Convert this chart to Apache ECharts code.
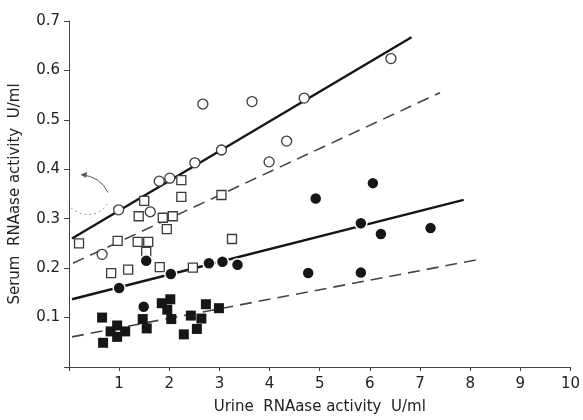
<!DOCTYPE html>
<html>
<head>
<meta charset="utf-8">
<script src="https://cdn.jsdelivr.net/npm/echarts@6/dist/echarts.min.js"></script>
<style>html,body{margin:0;padding:0;background:#fff;}#c{width:583px;height:420px;}</style>
</head>
<body>
<div id="c"></div>
<script>
// ---- data (urine U/ml, serum U/ml) ----
const openCircles = [[0.66,0.228],[0.99,0.318],[1.62,0.314],[1.80,0.376],[2.01,0.382],[2.51,0.413],[2.67,0.532],[3.04,0.439],[3.65,0.537],[3.99,0.415],[4.34,0.457],[4.69,0.544],[6.42,0.624]];
const openSquares = [[0.20,0.250],[0.84,0.190],[0.97,0.255],[1.18,0.197],[1.37,0.253],[1.39,0.305],[1.50,0.336],[1.54,0.233],[1.58,0.253],[1.81,0.202],[1.87,0.302],[1.95,0.279],[2.07,0.305],[2.24,0.378],[2.24,0.344],[2.47,0.201],[3.04,0.348],[3.25,0.259]];
const filledCircles = [[1.00,0.160],[1.49,0.122],[1.54,0.215],[2.03,0.188],[2.79,0.210],[3.06,0.213],[3.36,0.207],[4.77,0.190],[4.92,0.341],[5.82,0.291],[5.82,0.191],[6.06,0.372],[6.22,0.269],[7.21,0.281]];
const filledSquares = [[0.66,0.100],[0.68,0.049],[0.83,0.072],[0.96,0.084],[0.96,0.061],[1.12,0.072],[1.47,0.097],[1.55,0.078],[1.85,0.129],[2.02,0.137],[1.96,0.116],[2.04,0.097],[2.29,0.066],[2.43,0.104],[2.55,0.077],[2.64,0.098],[2.73,0.127],[2.99,0.119]];
// regression lines (endpoints)
const fitOpenCircles = [[0.06,0.260],[6.83,0.667]];
const fitOpenSquares = [[0.08,0.210],[7.40,0.555]];
const fitFilledCircles = [[0.06,0.137],[7.87,0.338]];
const fitFilledSquares = [[0.06,0.061],[8.14,0.217]];
const xTicks = [1,2,3,4,5,6,7,8,9,10];
const yTicks = [0.1,0.2,0.3,0.4,0.5,0.6,0.7];
const xTitle = 'Urine  RNAase activity  U/ml';
const yTitle = 'Serum  RNAase activity  U/ml';

const ink = '#161616';
const txt = '#222';
const font = 'DejaVu Sans';
const chart = echarts.init(document.getElementById('c'), null, {renderer:'canvas'});

function lineSeries(data, dashed){
  return {type:'line', data:data, symbol:'none', silent:true, z:1,
    lineStyle:{color: dashed ? '#444' : ink, width: dashed ? 1.6 : 2.4, type: dashed ? [12,7] : 'solid'}};
}
function scatter(data, symbol, filled, size, ring){
  return {type:'scatter', data:data, symbol:symbol, symbolSize:size, z:3,
    itemStyle: filled ? {color:ink, borderColor:'#fff', borderWidth:ring, opacity:1}
                      : {color:'#fff', borderColor:'#3a3a3a', borderWidth:1.3, opacity:1}};
}

chart.setOption({
  animation:false,
  backgroundColor:'#fff',
  grid:{left:68, right:10, top:21, bottom:48},
  xAxis:{type:'value', min:0, max:10, interval:1,
    axisLine:{lineStyle:{color:'#444', width:1}},
    axisTick:{length:4, lineStyle:{color:'#444'}},
    splitLine:{show:false},
    axisLabel:{color:txt, fontFamily:font, fontSize:15, margin:10,
      formatter:v => xTicks.indexOf(v) >= 0 ? String(v) : ''},
    name:xTitle, nameLocation:'middle', nameGap:33,
    nameTextStyle:{color:txt, fontFamily:font, fontSize:15}},
  yAxis:{type:'value', min:0, max:0.7, interval:0.1,
    axisLine:{show:true, lineStyle:{color:'#444', width:1}},
    axisTick:{show:true, length:5, lineStyle:{color:'#444'}},
    splitLine:{show:false},
    axisLabel:{color:txt, fontFamily:font, fontSize:15, margin:9,
      formatter:v => { const t = yTicks.find(k => Math.abs(k - v) < 1e-6); return t ? t.toFixed(1) : ''; }},
    name:yTitle, nameLocation:'middle', nameGap:46, nameRotate:90,
    nameTextStyle:{color:txt, fontFamily:font, fontSize:15}},
  series:[
    lineSeries(fitOpenCircles,false),
    lineSeries(fitOpenSquares,true),
    lineSeries(fitFilledCircles,false),
    lineSeries(fitFilledSquares,true),
    scatter(openCircles,'circle',false,10),
    scatter(openSquares,'rect',false,9),
    scatter(filledCircles,'circle',true,12,1.5),
    scatter(filledSquares,'rect',true,10,0)
  ]
});

// hand-drawn annotation (arrow and dotted arc) placed in data coordinates
const p = (x,y) => chart.convertToPixel({gridIndex:0}, [x,y]);
const a0 = p(0.78,0.353), a1 = p(0.62,0.386), a2 = p(0.24,0.389);
const d0 = p(0.04,0.322), d1 = p(0.30,0.300), d2 = p(0.62,0.305), d3 = p(0.76,0.330);
chart.setOption({graphic:[
  {type:'bezierCurve', shape:{x1:a0[0],y1:a0[1],x2:a2[0],y2:a2[1],cpx1:a1[0],cpy1:a1[1]},
    style:{stroke:'#555', lineWidth:1, fill:null}},
  {type:'polygon', shape:{points:[[a2[0],a2[1]],[a2[0]+6,a2[1]-3],[a2[0]+5,a2[1]+3]]}, style:{fill:'#555'}},
  {type:'bezierCurve', shape:{x1:d0[0],y1:d0[1],x2:d3[0],y2:d3[1],cpx1:d1[0],cpy1:d1[1],cpx2:d2[0],cpy2:d2[1]},
    style:{stroke:'#999', lineWidth:1, lineDash:[2,3], fill:null}}
]});
</script>
</body>
</html>
